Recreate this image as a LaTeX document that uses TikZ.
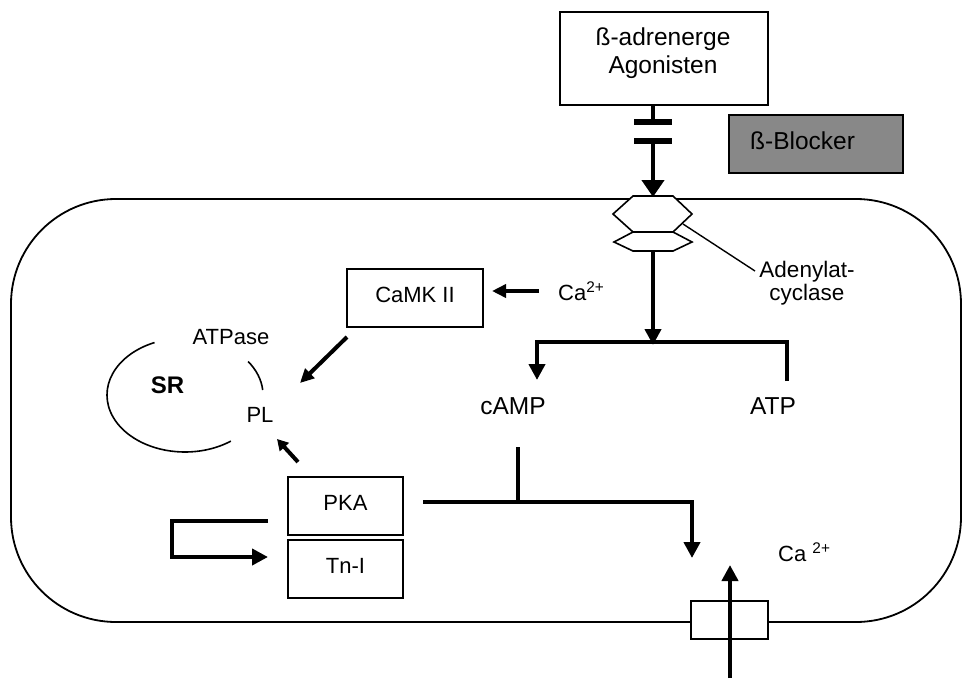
\documentclass[tikz,border=0pt]{standalone}
\usepackage{fontspec}
\setmainfont{Liberation Sans}
\usetikzlibrary{arrows.meta}
\definecolor{blockergray}{RGB}{136,136,136}
\begin{document}
\begin{tikzpicture}[x=1pt,y=-1pt,
  boxnode/.style={draw, line width=1.8pt, inner sep=0pt, font=\fontsize{22}{26}\selectfont, text height=17pt, text depth=9pt},
  plainbox/.style={draw, line width=1.8pt, inner sep=0pt},
  lbl/.style={inner sep=0pt, font=\fontsize{22}{26}\selectfont},
  biglbl/.style={inner sep=0pt, font=\fontsize{24.5}{28}\selectfont},
  fat/.style={line width=4.5pt},
  midline/.style={line width=4pt},
  bigtip/.style={-{Triangle[length=16pt,width=16pt]}},
  widetip/.style={-{Triangle[length=17pt,width=22pt]}},
  smalltip/.style={-{Triangle[length=14pt,width=13pt]}},
  tinytip/.style={-{Triangle[length=11pt,width=12pt]}},
  cellline/.style={line width=1.8pt},
  hexline/.style={line width=1.6pt, fill=white, line join=miter}
]
\useasboundingbox (0,0) rectangle (962,678);

% cell membrane
\draw[cellline, rounded corners=105pt] (11,199) rectangle (961,622);

% agonist box and receptor bars
\node[plainbox, minimum width=208pt, minimum height=93pt] (agon) at (664,58.5) {};
\node[biglbl, align=center, anchor=north] (agontext) at (663,28) {ß-adrenerge\\Agonisten};
\coordinate (agonout) at (653,105);
\coordinate (bartop) at (653,122);
\coordinate (barlow) at (653,141);
\coordinate (rectop) at (653,197);
\draw[fat] (agonout) -- (bartop);
\fill (634,119) rectangle (672,125);
\fill (634,138) rectangle (672,144);
\draw[fat, widetip] (barlow) -- (rectop);

% beta blocker
\node[draw, line width=1.5pt, fill=blockergray, minimum width=174pt, minimum height=58pt, inner sep=0pt] (blocker) at (816,144) {};
\node[biglbl, anchor=base west] (blockertext) at (750,149) {ß-Blocker};

% adenylate cyclase hexagons
\draw[hexline] (613,214) -- (633,196) -- (673,196) -- (692,214) -- (673,232) -- (633,232) -- cycle;
\draw[hexline] (633,232) -- (673,232) -- (692,242) -- (673,251) -- (633,251) -- (614,242) -- cycle;
\coordinate (hexbot) at (653,251);
\coordinate (hexedge) at (683,224);
\coordinate (adend) at (755,271);
\draw[line width=1.4pt] (hexedge) -- (adend);
\node[inner sep=0pt, font=\fontsize{22.5}{23}\selectfont, align=center, anchor=north] (adlbl) at (807,261) {Adenylat-\\cyclase};

% cAMP / ATP branch
\coordinate (branch) at (653,345);
\coordinate (campend) at (537,380);
\coordinate (atpend) at (787,381);
\draw[fat, bigtip] (hexbot) -- (branch);
\draw[fat, bigtip, line join=miter] (atpend) -- (787,342) -- (537,342) -- (campend);
\node[biglbl, anchor=base] (camp) at (513,414) {cAMP};
\node[biglbl, anchor=base] (atp) at (773,414) {ATP};

% CaMK II
\node[boxnode, minimum width=136pt, minimum height=58pt] (camk) at (415,298) {CaMK II};
\node[lbl, anchor=base west] (ca1) at (558,300) {Ca\textsuperscript{2+}};
\coordinate (castart) at (539,291);
\coordinate (catip) at (492,291);
\draw[midline, smalltip] (castart) -- (catip);
\coordinate (camkout) at (347,337);
\coordinate (pltip) at (300,383);
\draw[midline, smalltip] (camkout) -- (pltip);

% SR
\draw[line width=1.6pt] (185,395) ++(247:78 and 57) arc[start angle=247, end angle=54, x radius=78, y radius=57];
\draw[line width=1.6pt] (185,395) ++(-36:78 and 57) arc[start angle=-36, end angle=-5, x radius=78, y radius=57];
\node[inner sep=0pt, font=\fontsize{24}{28}\selectfont\bfseries, anchor=base] (sr) at (167.5,393) {SR};
\node[lbl, anchor=base] (atpase) at (231,344) {ATPase};
\node[lbl, anchor=base] (pl) at (260,422) {PL};

% PKA and Tn-I
\node[boxnode, minimum width=115pt, minimum height=58pt] (pka) at (345.5,506) {PKA};
\node[boxnode, minimum width=115pt, minimum height=58pt] (tni) at (345.5,569) {Tn-I};
\coordinate (pkaout) at (298,462);
\coordinate (pltip2) at (277,439);
\draw[midline, tinytip] (pkaout) -- (pltip2);
\coordinate (loopstart) at (268,521);
\coordinate (looptip) at (268,557);
\draw[fat, bigtip, line join=miter] (loopstart) -- (172,521) -- (172,557) -- (looptip);

% PKA to Ca channel
\coordinate (pkaline) at (423,502);
\coordinate (camptop) at (518,447);
\coordinate (campjoin) at (518,502);
\coordinate (chantip) at (692,558);
\draw[fat, bigtip, line join=miter] (pkaline) -- (692,502) -- (chantip);
\draw[fat] (camptop) -- (campjoin);

% Ca channel
\node[plainbox, line width=1.6pt, fill=white, minimum width=77pt, minimum height=38pt] (chan) at (729.5,620) {};
\coordinate (chanin) at (730,678);
\coordinate (chanup) at (730,565);
\draw[fat, bigtip] (chanin) -- (chanup);
\node[lbl, anchor=base west] (ca2) at (778,561) {Ca \textsuperscript{2+}};
\end{tikzpicture}
\end{document}
